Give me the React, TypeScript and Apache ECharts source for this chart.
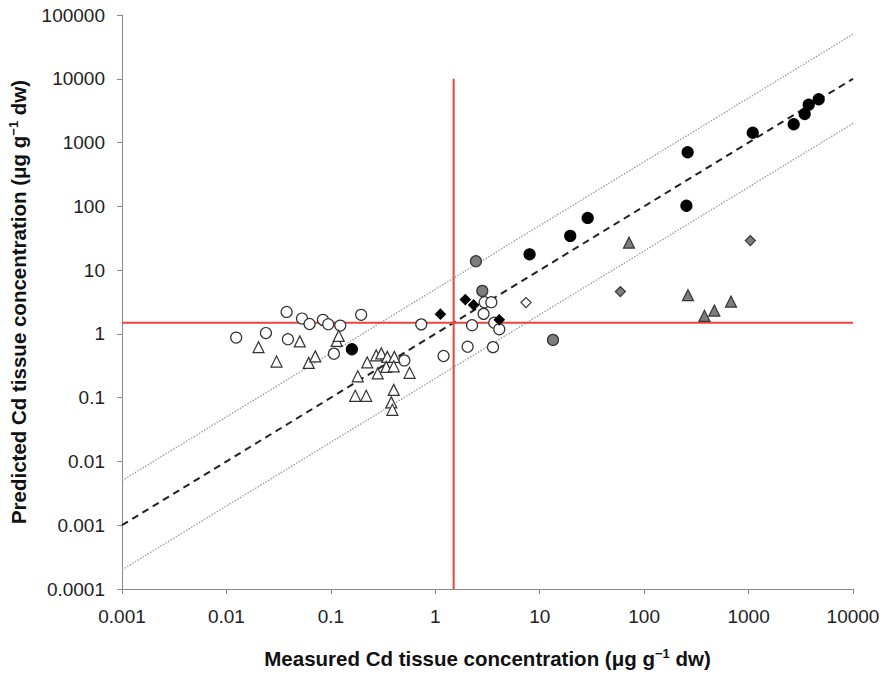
import React, { useEffect, useRef } from "react";
import * as echarts from "echarts";

// ---- data (measured, predicted) in µg g-1 dw ----
const blackCircles: [number, number][] = [
  [0.159, 0.575], [8.0, 17.7], [19.6, 34.4], [28.8, 65.8], [261, 705], [254, 102],
  [1096, 1429], [2705, 1936], [3446, 2806], [3763, 3927], [4693, 4775],
];
const greyCircles: [number, number][] = [
  [2.45, 13.8], [2.82, 4.72], [13.4, 0.805],
];
const openCircles: [number, number][] = [
  [0.0124, 0.875], [0.0239, 1.03], [0.0377, 2.21], [0.0388, 0.826], [0.0529, 1.74],
  [0.0625, 1.43], [0.084, 1.66], [0.0944, 1.42], [0.123, 1.35], [0.195, 1.99],
  [0.107, 0.49], [0.505, 0.384], [0.734, 1.41], [1.2, 0.45], [2.04, 0.63],
  [2.25, 1.37], [2.9, 2.06], [2.97, 3.14], [3.44, 3.14], [3.67, 1.5],
  [4.1, 1.18], [3.57, 0.62],
];
const openTriangles: [number, number][] = [
  [0.0203, 0.619], [0.0302, 0.368], [0.0504, 0.763], [0.0614, 0.351], [0.0709, 0.444],
  [0.1139, 0.777], [0.119, 0.93], [0.181, 0.216], [0.171, 0.107], [0.218, 0.107],
  [0.223, 0.357], [0.272, 0.46], [0.304, 0.495], [0.347, 0.436], [0.405, 0.436],
  [0.281, 0.24], [0.339, 0.304], [0.4, 0.31], [0.567, 0.245], [0.4, 0.1325],
  [0.379, 0.0844], [0.388, 0.0644],
];
const greyTriangles: [number, number][] = [
  [71.6, 27.0], [263, 4.04], [378, 1.92], [470, 2.32], [679, 3.21],
];
const blackDiamonds: [number, number][] = [
  [1.12, 2.04], [1.94, 3.45], [2.33, 2.85], [4.1, 1.66],
];
const openDiamonds: [number, number][] = [[7.39, 3.1]];
const greyDiamonds: [number, number][] = [[59.2, 4.6], [1040, 29.0]];

// reference lines
const oneToOneLine: [number, number][] = [[0.001, 0.001], [10000, 10000]];
const upperLine: [number, number][] = [[0.001, 0.005], [10000, 50000]];
const lowerLine: [number, number][] = [[0.001, 0.0002], [10000, 2000]];
const thresholdV: [number, number][] = [[1.5, 0.0001], [1.5, 10000]];
const thresholdH: [number, number][] = [[0.001, 1.5], [10000, 1.5]];

const xRange = [0.001, 10000];
const yRange = [0.0001, 100000];

const fmt = (v: number) => {
  const e = Math.round(Math.log10(v));
  if (e >= 0) return String(Math.round(Math.pow(10, e)));
  return "0." + "0".repeat(-e - 1) + "1";
};

const FONT = "Liberation Sans, Arial, sans-serif";

export default function App() {
  const ref = useRef<HTMLDivElement>(null);
  useEffect(() => {
    if (!ref.current) return;
    const chart = echarts.init(ref.current, undefined, { renderer: "svg" });
    const axisCommon = {
      type: "log" as const,
      logBase: 10,
      axisLine: { show: true, lineStyle: { color: "#8a8a8a", width: 1 } },
      axisTick: { show: true, length: 5, lineStyle: { color: "#8a8a8a" } },
      minorTick: { show: false },
      splitLine: { show: false },
      nameLocation: "middle" as const,
    };
    const nameStyle = {
      fontFamily: FONT,
      fontWeight: "bold" as const,
      fontSize: 20.5,
      color: "#111",
      rich: {
        sup: { fontFamily: FONT, fontWeight: "bold" as const, fontSize: 13, color: "#111", padding: [0, 0, 10, 0] },
      },
    };
    const scatter = (data: [number, number][], symbol: string, size: number, fill: string, border: string) => ({
      type: "scatter" as const,
      data,
      symbol,
      symbolSize: size,
      z: 5,
      itemStyle: { color: fill, borderColor: border, borderWidth: 1.2, opacity: 1 },
    });
    const line = (data: [number, number][], color: string, width: number, type: any) => ({
      type: "line" as const,
      data,
      showSymbol: false,
      symbol: "none",
      z: 2,
      lineStyle: { color, width, type },
      silent: true,
    });
    chart.setOption({
      animation: false,
      grid: { left: 122, right: 34, top: 15, bottom: 84, outerBoundsMode: "none" },
      xAxis: {
        ...axisCommon,
        min: xRange[0],
        max: xRange[1],
        splitNumber: 7,
        axisLabel: { formatter: fmt, fontFamily: FONT, fontSize: 19, color: "#222", margin: 18 },
        name: "Measured Cd tissue concentration (μg g{sup|−1} dw)",
        nameGap: 58,
        nameTextStyle: nameStyle,
      },
      yAxis: {
        ...axisCommon,
        min: yRange[0],
        max: yRange[1],
        splitNumber: 9,
        axisLabel: { formatter: fmt, fontFamily: FONT, fontSize: 19, color: "#222", margin: 17 },
        name: "Predicted Cd tissue concentration (μg g{sup|−1} dw)",
        nameGap: 92,
        nameTextStyle: nameStyle,
      },
      series: [
        line(upperLine, "#9a9a9a", 1.3, [1.5, 1.5]),
        line(lowerLine, "#9a9a9a", 1.3, [1.5, 1.5]),
        line(oneToOneLine, "#222", 2, [7, 5]),
        line(thresholdV, "#e8453c", 2, "solid"),
        line(thresholdH, "#e8453c", 2, "solid"),
        scatter(openCircles, "circle", 11, "#ffffff", "#333"),
        scatter(openTriangles, "triangle", 11, "#ffffff", "#333"),
        scatter(greyCircles, "circle", 11, "#7d7d7d", "#333"),
        scatter(greyTriangles, "triangle", 11, "#7d7d7d", "#333"),
        scatter(greyDiamonds, "diamond", 10, "#7d7d7d", "#333"),
        scatter(openDiamonds, "diamond", 10, "#ffffff", "#333"),
        scatter(blackDiamonds, "diamond", 10, "#000", "#000"),
        scatter(blackCircles, "circle", 11, "#000", "#000"),
      ],
    });
    return () => chart.dispose();
  }, []);
  return <div ref={ref} style={{ position: "absolute", left: 0, top: 0, width: 887, height: 673 }} />;
}
